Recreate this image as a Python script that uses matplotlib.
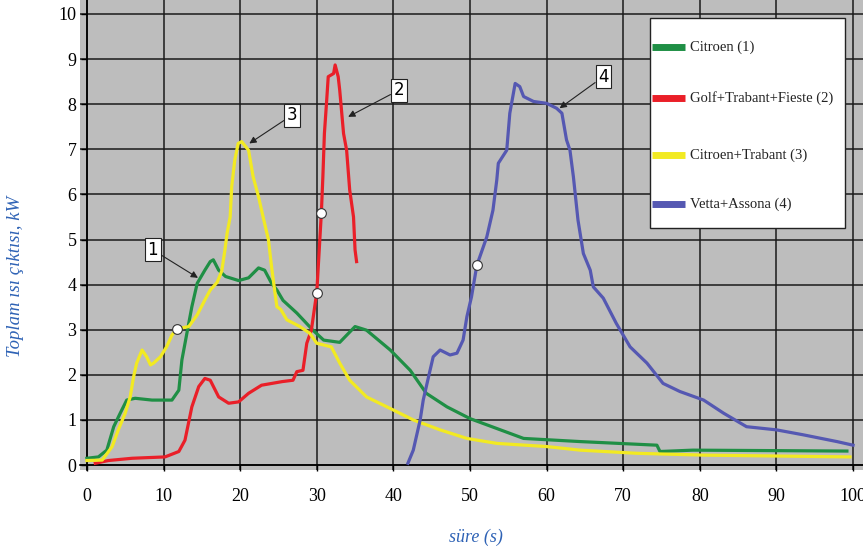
import matplotlib
matplotlib.use("Agg")
import matplotlib.pyplot as plt
from matplotlib.lines import Line2D
from matplotlib.patches import Rectangle

# ---------------- data ----------------
green_x = [0, 1.5, 2.6, 3.5, 4.35, 5.2, 6.3, 8.5, 11.1, 12.0, 12.4, 13.05, 13.7, 14.4, 15.4, 16.1, 16.5,
           17.2, 18.1, 19.8, 21.1, 22.4, 23.2, 24.1, 24.8, 25.6, 27.4, 29.5, 30.9, 33.0, 35.0, 36.5, 39.6,
           42.2, 44.3, 47.0, 50.0, 53.5, 57.0, 64.4, 74.4, 74.8, 79.1, 99.2]
green_y = [0.15, 0.18, 0.33, 0.85, 1.15, 1.44, 1.48, 1.44, 1.44, 1.66, 2.33, 2.92, 3.51, 4.03, 4.32, 4.51, 4.55,
           4.32, 4.18, 4.09, 4.15, 4.37, 4.32, 4.03, 3.88, 3.65, 3.37, 2.99, 2.77, 2.72, 3.07, 2.99, 2.55,
           2.1, 1.59, 1.29, 1.03, 0.81, 0.59, 0.52, 0.44, 0.30, 0.33, 0.31]

red_x = [1.1, 2.8, 5.9, 10.2, 12.0, 12.8, 13.7, 14.6, 15.4, 16.1, 17.2, 18.5, 19.8, 21.1, 22.8, 25.5, 26.9,
         27.4, 28.2, 28.7, 29.3, 29.8, 30.0, 30.2, 30.6, 30.8, 31.0, 31.3, 31.5, 32.2, 32.4, 32.8, 33.0,
         33.5, 33.9, 34.3, 34.8, 35.0, 35.2]
red_y = [0.04, 0.1, 0.15, 0.18, 0.3, 0.55, 1.29, 1.74, 1.92, 1.88, 1.51, 1.37, 1.4, 1.59, 1.77, 1.85, 1.88,
         2.07, 2.1, 2.7, 2.99, 3.59, 3.81, 4.4, 5.58, 6.39, 7.35, 8.09, 8.61, 8.68, 8.87, 8.61, 8.31,
         7.35, 6.98, 6.1, 5.5, 4.77, 4.51]

yellow_x = [0, 2.0, 3.3, 4.1, 5.0, 5.65, 6.1, 6.5, 7.2, 7.8, 8.3, 8.7, 9.6, 10.4, 11.1, 11.75, 13.3, 14.4,
            15.4, 16.1, 17.0, 17.6, 18.0, 18.3, 18.7, 18.9, 19.3, 19.75, 20.2, 21.1, 21.7, 22.4, 23.0, 23.7,
            24.1, 24.5, 24.8, 25.3, 26.1, 27.8, 29.1, 30.0, 31.9, 33.0, 34.3, 36.5, 40.0, 42.6, 46.1, 49.6,
            53.5, 60.0, 64.4, 71.8, 80.4, 99.6]
yellow_y = [0.1, 0.11, 0.41, 0.78, 1.15, 1.51, 1.96, 2.26, 2.55, 2.4, 2.22, 2.26, 2.4, 2.62, 2.88, 3.02, 3.07, 3.33,
            3.66, 3.88, 4.05, 4.3, 4.75, 5.14, 5.5, 6.17, 6.76, 7.13, 7.17, 6.98, 6.39, 5.95, 5.5, 4.99,
            4.4, 3.88, 3.51, 3.45, 3.22, 3.07, 2.92, 2.7, 2.62, 2.26, 1.88, 1.51, 1.22, 1.0, 0.78, 0.59,
            0.48, 0.41, 0.33, 0.26, 0.22, 0.18]

blue_x = [41.9, 42.6, 43.5, 43.9, 44.6, 45.2, 46.1, 47.4, 48.3, 49.1, 49.6, 50.2, 50.9, 52.2, 53.0, 53.5, 53.7,
          54.8, 55.2, 55.9, 56.5, 57.0, 58.3, 60.0, 61.3, 62.0, 62.6, 63.05, 63.5, 64.1, 64.8, 65.7, 66.1,
          67.4, 69.1, 70.9, 73.1, 75.2, 77.4, 80.5, 83.1, 86.1, 90.0, 93.5, 97.9, 100.0]
blue_y = [0.04, 0.33, 1.0, 1.44, 1.96, 2.4, 2.55, 2.44, 2.48, 2.77, 3.29, 3.73, 4.43, 5.06, 5.65, 6.32, 6.69,
          6.98, 7.8, 8.46, 8.39, 8.17, 8.06, 8.02, 7.91, 7.8, 7.21, 6.98, 6.39, 5.43, 4.69, 4.32, 3.95,
          3.7, 3.14, 2.62, 2.26, 1.81, 1.63, 1.44, 1.15, 0.85, 0.78, 0.67, 0.52, 0.44]

marker_x = [11.75, 30.0, 30.6, 50.9]
marker_y = [3.02, 3.81, 5.58, 4.43]

labels = ["Citroen (1)", "Golf+Trabant+Fieste (2)", "Citroen+Trabant (3)", "Vetta+Assona (4)"]
colors = ["#1f8f45", "#ea1f28", "#f2ea22", "#5558b2"]

# callouts: (label, arrow tip, box centre)
call_lbl = ["1", "2", "3", "4"]
call_tip = [(14.5, 4.15), (34.1, 7.72), (21.2, 7.13), (61.7, 7.91)]
call_box = [(8.6, 4.77), (40.7, 8.31), (26.8, 7.76), (67.4, 8.61)]

x_ticks = list(range(0, 101, 10))
y_ticks = list(range(0, 11))

# ---------------- figure ----------------
W, H = 863, 551
fig = plt.figure(figsize=(W / 100, H / 100), dpi=100)
fig.patch.set_facecolor("white")
ax = fig.add_axes([80 / W, 1 - 470 / H, 783 / W, 470 / H])
ax.set_facecolor("#bdbdbd")
ax.set_xlim(-0.9, 101.3)
ax.set_ylim(-0.11, 10.31)

serif = "Liberation Serif"

for xs, ys, c in zip([green_x, red_x, yellow_x, blue_x], [green_y, red_y, yellow_y, blue_y], colors):
    ax.plot(xs, ys, color="#222222", lw=1.0, zorder=3)
    ax.plot(xs, ys, color=c, lw=2.3, zorder=4, solid_joinstyle="round")

ax.plot(marker_x, marker_y, "o", ms=7, mfc="white", mec="#333333", mew=0.8, zorder=6, ls="none")

ax.set_xticks(x_ticks)
ax.set_yticks(y_ticks)
ax.grid(True, color="#1a1a1a", lw=1.1, zorder=1)
ax.set_axisbelow(True)

for s in ["top", "right"]:
    ax.spines[s].set_visible(False)
ax.spines["left"].set_position(("data", 0))
ax.spines["bottom"].set_position(("data", 0))
ax.spines["left"].set_linewidth(1.2)
ax.spines["bottom"].set_linewidth(1.2)
ax.tick_params(axis="x", direction="out", length=4.5, width=1.0, pad=12, labelsize=13)
ax.tick_params(axis="y", direction="out", length=4.5, width=1.0, pad=3, labelsize=13)
for lab in ax.get_xticklabels() + ax.get_yticklabels():
    lab.set_fontfamily(serif)

for lbl, tip, box in zip(call_lbl, call_tip, call_box):
    ax.annotate(lbl, xy=tip, xytext=box, fontsize=12, family="DejaVu Sans", ha="center", va="center",
                bbox=dict(boxstyle="square,pad=0.15", fc="white", ec="#222222", lw=0.8),
                arrowprops=dict(arrowstyle="-|>", color="#222222", lw=0.8, mutation_scale=10,
                                shrinkA=0, shrinkB=0), zorder=7)

# ---- legend box (drawn in figure pixel positions, like the scanned original) ----
def fx(px):
    return px / W

def fy(py):
    return 1 - py / H

fig.add_artist(Rectangle((fx(650), fy(228)), fx(845) - fx(650), fy(18) - fy(228),
                         transform=fig.transFigure, fc="white", ec="#222222", lw=1.0, zorder=20))
leg_rows = [47, 98, 155, 204]
for c, lbl, row in zip(colors, labels, leg_rows):
    fig.add_artist(Line2D([fx(652), fx(685)], [fy(row), fy(row)], transform=fig.transFigure,
                          color=c, lw=5, solid_capstyle="butt", zorder=21))
    fig.text(fx(690), fy(row), lbl, ha="left", va="center", fontsize=10.5, family=serif,
             color="#222222", zorder=22)

fig.text(15 / W, 1 - 276 / H, "Toplam ısı çıktısı, kW", rotation=90, ha="center", va="center",
         color="#2e62b5", fontsize=13.5, style="italic", family=serif)
fig.text(476 / W, 1 - 537 / H, "süre (s)", ha="center", va="center",
         color="#2e62b5", fontsize=13, style="italic", family=serif)

fig.savefig("out.png", dpi=100)
